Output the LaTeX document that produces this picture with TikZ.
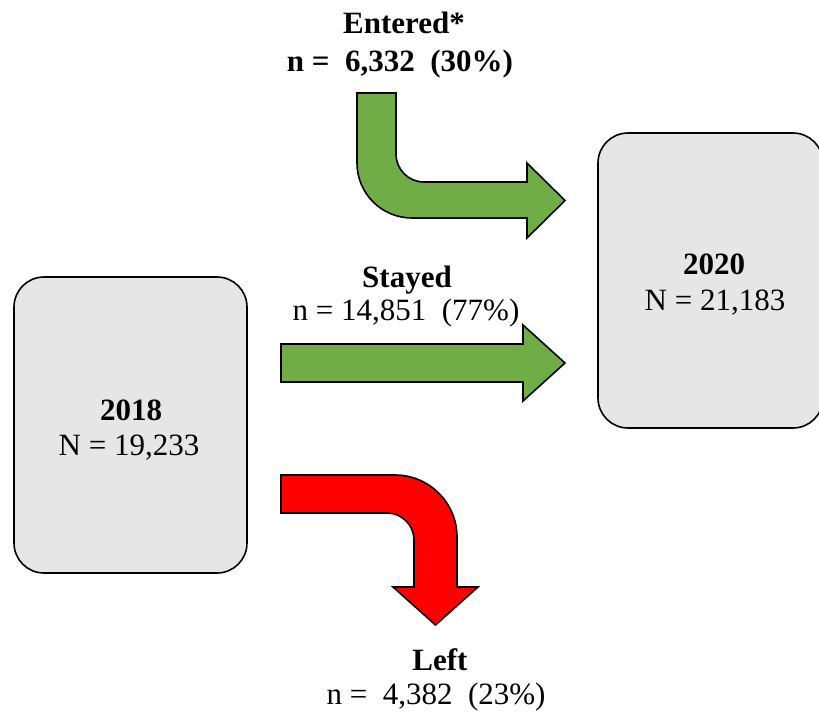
\documentclass[tikz,border=0pt]{standalone}
\usepackage{fontspec}
\setmainfont{Liberation Serif}
\definecolor{boxgray}{HTML}{E6E6E6}
\definecolor{flowgreen}{HTML}{70AD47}
\definecolor{flowred}{HTML}{FF0000}

\begin{document}
\begin{tikzpicture}[x=1pt,y=-1pt,
  yearbox/.style={draw=black, line width=1.6pt, fill=boxgray,
    rounded corners=30pt, inner sep=0pt},
  flow/.style={draw=black, line width=1.6pt, line join=miter},
  lbl/.style={anchor=base, inner sep=0pt, font=\fontsize{31}{36}\selectfont},
  ]
\useasboundingbox (0,0) rectangle (819,713);
\clip (0,0) rectangle (819,713);

% year boxes
\node[yearbox, minimum width=233pt, minimum height=296pt] (y2018) at (130.5,425) {};
\node[yearbox, minimum width=225pt, minimum height=295pt] (y2020) at (710.5,280.5) {};
\node[lbl] (y2018T) at (131,420) {\textbf{2018}};
\node[lbl] (y2018N) at (129,455) {N = 19,233};
\node[lbl] (y2020T) at (714,274) {\textbf{2020}};
\node[lbl] (y2020N) at (715,310) {N = 21,183};

% entering flow: down, then right into 2020
\draw[flow, fill=flowgreen]
  (357,93) -- (396,93) -- (396,154)
  .. controls (396,169.5) and (408.5,182) .. (424,182)
  -- (527,182) -- (527,163) -- (565,200.5) -- (527,238) -- (527,218)
  -- (412,218) .. controls (381.6,218) and (357,193.4) .. (357,163) -- cycle;

% staying flow: straight across
\draw[flow, fill=flowgreen]
  (281,344) -- (523,344) -- (523,325) -- (565,363) -- (523,401)
  -- (523,382) -- (281,382) -- cycle;

% leaving flow: right, then down
\draw[flow, fill=flowred]
  (281,475) -- (395,475) .. controls (429.2,475) and (457,502.8) .. (457,537)
  -- (457,587) -- (478,587) -- (435.5,625) -- (393,587) -- (414,587)
  -- (414,540) .. controls (414,525.1) and (401.9,513) .. (387,513)
  -- (281,513) -- cycle;

% flow labels
\node[lbl] (entT) at (404,33) {\textbf{Entered*}};
\node[lbl] (entN) at (400,71) {\textbf{n = \ 6,332 \ (30\%)}};
\node[lbl] (stayT) at (407,287) {\textbf{Stayed}};
\node[lbl] (stayN) at (406,320) {n = 14,851 \ (77\%)};
\node[lbl] (leftT) at (440,670) {\textbf{Left}};
\node[lbl] (leftN) at (436,704) {n = \ 4,382 \ (23\%)};
\end{tikzpicture}
\end{document}
